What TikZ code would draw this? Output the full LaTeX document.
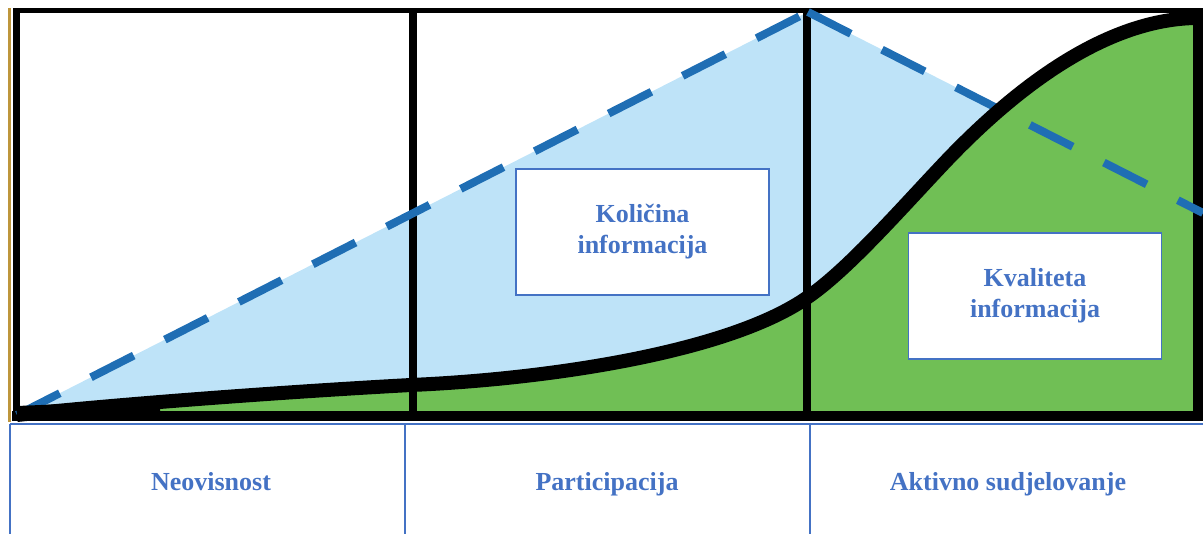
\documentclass[tikz,border=0pt]{standalone}
\usepackage{fontspec}
\setmainfont{Liberation Serif}
\definecolor{lightblue}{RGB}{190,227,248}
\definecolor{grass}{RGB}{112,191,85}
\definecolor{dashblue}{RGB}{31,110,180}
\definecolor{textblue}{RGB}{68,114,196}
\definecolor{rim}{RGB}{190,150,60}
\begin{document}
\begin{tikzpicture}[x=1pt,y=-1pt,
  labelfont/.style={font=\fontsize{26}{31}\selectfont\bfseries, text=textblue},
  infobox/.style={labelfont, draw=textblue, line width=1.5pt, fill=white, minimum width=253pt, minimum height=126pt, align=center},
  tableline/.style={draw=textblue, line width=1.5pt},
  amount/.style={dashblue, line width=8pt, dash pattern=on 48pt off 35pt}]
\useasboundingbox (0,0) rectangle (1203,534);
\coordinate (start) at (17,415);
\coordinate (peak) at (808,12);
\coordinate (rend) at (1203,213);
\coordinate (corner) at (1198,416);
\fill[lightblue] (start) -- (peak) -- (rend) -- (corner) -- cycle;
\fill[grass] (start) .. controls (130,403) and (300,391) .. (411,385)
  .. controls (550,379) and (730,352) .. (808,297)
  .. controls (850,268) and (905,204) .. (950,157)
  .. controls (1010,95) and (1100,20) .. (1195,18) -- (corner) -- cycle;
\draw[line width=8pt] (413,10) -- (413,416) (807,10) -- (807,416);
\draw[rim, line width=2.5pt] (9.5,8) -- (9.5,422);
\draw[line width=7pt] (16,10) -- (16,416);
\draw[line width=5pt] (13,10.5) -- (1203,10.5);
\draw[line width=11pt] (1198,8) -- (1198,421);
\draw[line width=10pt] (12,416) -- (1203,416);
\draw[amount] (start) -- (peak);
\draw[amount] (peak) -- (rend);
\fill (17,406) -- (17,416) -- (160,412) -- (160,400) -- cycle;
\draw[line width=14pt] (start) .. controls (130,403) and (300,391) .. (411,385)
  .. controls (550,379) and (730,352) .. (808,297)
  .. controls (850,268) and (905,204) .. (950,157)
  .. controls (1010,95) and (1100,20) .. (1195,18);
\node[infobox] (kolicina) at (642.5,232) {Količina\\informacija};
\node[infobox] (kvaliteta) at (1035,296) {Kvaliteta\\informacija};
\draw[tableline] (10,424) -- (1203,424) (10,424) -- (10,534)
  (405,424) -- (405,534) (810,424) -- (810,534);
\node[labelfont, anchor=base] (neovisnost) at (211,491) {Neovisnost};
\node[labelfont, anchor=base] (participacija) at (607,491) {Participacija};
\node[labelfont, anchor=base] (aktivno) at (1008,491) {Aktivno sudjelovanje};
\end{tikzpicture}
\end{document}
